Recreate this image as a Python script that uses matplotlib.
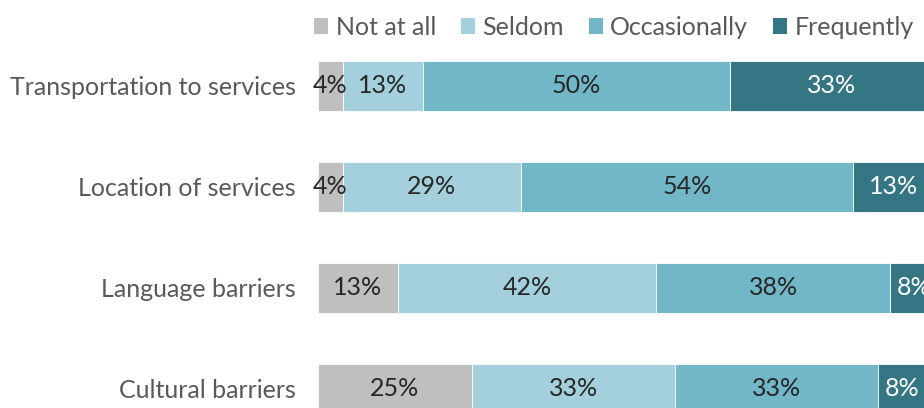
import matplotlib.pyplot as plt
from matplotlib.patches import Patch

plt.rcParams['font.family'] = ['Lato', 'DejaVu Sans']

categories = ['Transportation to services', 'Location of services',
              'Language barriers', 'Cultural barriers']
series = ['Not at all', 'Seldom', 'Occasionally', 'Frequently']
not_at_all = [4, 4, 13, 25]
seldom = [13, 29, 42, 33]
occasionally = [50, 54, 38, 33]
frequently = [33, 13, 8, 8]

colors = ['#bfbfbf', '#a3d0dc', '#72b7c7', '#347684']
text_colors = ['#262626', '#262626', '#262626', '#ffffff']

fig = plt.figure(figsize=(9.24, 4.08), dpi=100)
# the plot area runs a little past the right edge, as in the source image
ax = fig.add_axes([318 / 924, 0, 615 / 924, 1])

ypos = list(range(len(categories)))
left = [0] * len(categories)
for vals, col, tcol in zip([not_at_all, seldom, occasionally, frequently], colors, text_colors):
    ax.barh(ypos, vals, left=left, height=0.5, color=col, edgecolor='white', linewidth=0.6)
    for y, v, l in zip(ypos, vals, left):
        ax.text(l + v / 2, y, f'{v}%', ha='center', va='center', fontsize=18,
                color=tcol, clip_on=False)
    left = [a + b for a, b in zip(left, vals)]

ax.set_xlim(0, 100)
ax.set_ylim((408 - 86) / 101, -86 / 101)
ax.set_yticks(ypos)
ax.set_yticklabels(categories, fontsize=18, color='#595959')
ax.tick_params(axis='y', length=0, pad=16)
ax.set_xticks([])
for s in ax.spines.values():
    s.set_visible(False)

handles = [Patch(facecolor=c, label=s) for c, s in zip(colors, series)]
leg = fig.legend(handles=handles, loc='upper right', bbox_to_anchor=(1.005, 0.998), ncol=4,
                 frameon=False, fontsize=18, handlelength=0.55, handleheight=0.55,
                 handletextpad=0.3, columnspacing=1.0, borderaxespad=0.2)
for t in leg.get_texts():
    t.set_color('#595959')

fig.savefig('out.png', dpi=100)
